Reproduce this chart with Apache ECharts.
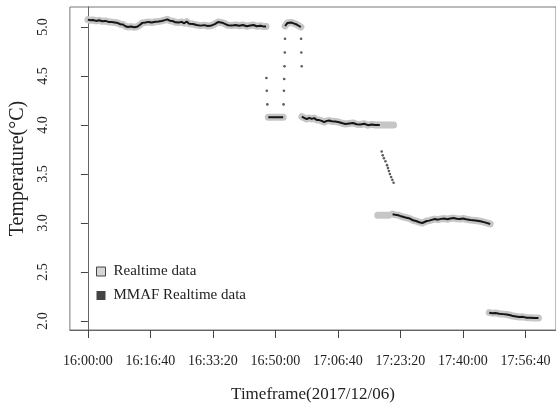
<!DOCTYPE html>
<html>
<head>
<meta charset="utf-8">
<script src="https://cdn.jsdelivr.net/npm/echarts@6/dist/echarts.min.js"></script>
<style>
  html, body { margin: 0; padding: 0; background: #fff; }
  #chart { width: 556px; height: 408px; }
</style>
</head>
<body>
<div id="chart"></div>
<script>
// seconds after 16:00:00 on 2017/12/06
const tickSeconds = [0, 1000, 2000, 3000, 4000, 5000, 6000, 7000];
const tickLabels = ['16:00:00', '16:16:40', '16:33:20', '16:50:00', '17:06:40', '17:23:20', '17:40:00', '17:56:40'];
const tempTicks = [2.0, 2.5, 3.0, 3.5, 4.0, 4.5, 5.0];

// plateau around 5.0 (16:00 - 16:47)
const timeA = [0, 40, 80, 130, 180, 230, 280, 330, 380, 430, 480, 520, 560, 600, 640, 690, 740, 790, 830, 870,
  920, 970, 1020, 1080, 1130, 1180, 1230, 1270, 1310, 1360, 1400, 1450, 1500, 1540, 1580, 1620, 1680, 1740,
  1800, 1860, 1920, 1980, 2030, 2080, 2110, 2150, 2200, 2240, 2300, 2360, 2420, 2480, 2540, 2600, 2650,
  2700, 2760, 2820, 2850];
const tempA = [5.075, 5.068, 5.072, 5.062, 5.068, 5.058, 5.062, 5.052, 5.05, 5.045, 5.04, 5.028, 5.025, 5.008, 5.0,
  5.004, 4.998, 5.003, 5.02, 5.042, 5.045, 5.052, 5.046, 5.053, 5.055, 5.062, 5.07, 5.078, 5.064, 5.06, 5.048, 5.045,
  5.052, 5.038, 5.055, 5.033, 5.03, 5.02, 5.014, 5.019, 5.01, 5.016, 5.03, 5.05, 5.062, 5.044, 5.03, 5.018, 5.014,
  5.021, 5.013, 5.02, 5.008, 5.016, 5.02, 5.008, 5.013, 5.004, 5.005];

// short drop to 4.08
const timeB = [2886, 2950, 3010, 3070, 3123];
const tempB = [4.08, 4.08, 4.08, 4.08, 4.08];

// short return to 5.0
const timeC = [3155, 3190, 3220, 3260, 3300, 3340, 3380, 3407];
const tempC = [5.01, 5.04, 5.055, 5.045, 5.035, 5.025, 5.01, 5.0];

// plateau around 4.0
const timeD = [3423, 3460, 3500, 3540, 3580, 3620, 3660, 3700, 3740, 3780, 3820, 3860, 3900, 3960, 4020,
  4060, 4120, 4180, 4240, 4300, 4360, 4420, 4480, 4540, 4600, 4669];
const tempD = [4.085, 4.072, 4.06, 4.072, 4.062, 4.07, 4.052, 4.05, 4.042, 4.03, 4.042, 4.045, 4.038, 4.035, 4.028,
  4.02, 4.01, 4.016, 4.021, 4.008, 4.005, 4.012, 3.998, 4.006, 4.0, 4.0];
const rtTailTimeD = [4720, 4800, 4890];
const rtTailTempD = [4.0, 4.0, 4.0];

// realtime only, early 3.08 block
const rtTimeE = [4637, 4700, 4760, 4811];
const rtTempE = [3.08, 3.08, 3.08, 3.08];

// plateau around 3.0
const timeF = [4874, 4920, 4960, 5010, 5040, 5080, 5110, 5150, 5200, 5250, 5300, 5350, 5380, 5420, 5460,
  5500, 5550, 5600, 5650, 5700, 5750, 5800, 5850, 5900, 5950, 6000, 6050, 6120, 6200, 6280, 6350, 6435];
const tempF = [3.09, 3.083, 3.08, 3.068, 3.06, 3.056, 3.048, 3.045, 3.028, 3.02, 3.008, 3.0, 3.006, 3.02, 3.024,
  3.032, 3.04, 3.034, 3.042, 3.045, 3.038, 3.046, 3.05, 3.043, 3.04, 3.046, 3.038, 3.03, 3.026, 3.018, 3.006, 2.99];

// plateau around 2.0
const timeG = [6420, 6470, 6520, 6580, 6640, 6700, 6760, 6800, 6850, 6900, 6960, 7020, 7080, 7140, 7208];
const tempG = [2.085, 2.08, 2.082, 2.074, 2.07, 2.066, 2.058, 2.05, 2.046, 2.04, 2.042, 2.034, 2.033, 2.03, 2.03];

// MMAF samples while the filter moves between levels
const mmafStepTime = [2855, 2862, 2870, 3130, 3136, 3140, 3145, 3150, 3153, 3410, 3414, 3420,
  4700, 4716, 4735, 4760, 4785, 4800, 4815, 4830, 4850, 4870, 4890];
const mmafStepTemp = [4.48, 4.35, 4.21, 4.21, 4.35, 4.47, 4.6, 4.74, 4.88, 4.88, 4.74, 4.6,
  3.73, 3.69, 3.66, 3.63, 3.59, 3.56, 3.53, 3.5, 3.47, 3.44, 3.41];

const FONT = 'Liberation Serif';

// join segments with gaps
function joinSegments(segs) {
  const out = [];
  segs.forEach((s, k) => {
    if (k > 0) out.push([s[0][0], '-']);
    s[0].forEach((t, i) => out.push([t, s[1][i]]));
  });
  return out;
}

const realtimeData = joinSegments([
  [timeA, tempA], [timeB, tempB], [timeC, tempC],
  [timeD.concat(rtTailTimeD), tempD.concat(rtTailTempD)],
  [rtTimeE, rtTempE], [timeF, tempF], [timeG, tempG],
]);
const mmafData = joinSegments([
  [timeA, tempA], [timeB, tempB], [timeC, tempC], [timeD, tempD], [timeF, tempF], [timeG, tempG],
]);
const mmafSteps = mmafStepTime.map((t, i) => [t, mmafStepTemp[i]]);

const chart = echarts.init(document.getElementById('chart'));

chart.setOption({
  animation: false,
  backgroundColor: '#fff',
  grid: {
    left: 69, top: 7, right: -6, bottom: 78,
    show: true, borderColor: '#777', borderWidth: 1,
  },
  legend: {
    orient: 'vertical',
    left: 91, top: 259,
    itemWidth: 9, itemHeight: 9, itemGap: 9,
    icon: 'rect',
    textStyle: { fontFamily: FONT, fontSize: 15, color: '#222', padding: [0, 0, 0, 3] },
    data: [
      { name: 'Realtime data', itemStyle: { color: '#d6d6d6', borderColor: '#444', borderWidth: 1 } },
      { name: 'MMAF Realtime data', itemStyle: { color: '#444' } },
    ],
  },
  xAxis: {
    type: 'value',
    min: -288, max: 7488,
    splitLine: { show: false },
    axisLine: { show: true, lineStyle: { color: '#666' } },
    axisTick: { show: true, length: 8, customValues: tickSeconds, lineStyle: { color: '#444' } },
    axisLabel: {
      customValues: tickSeconds,
      margin: 24,
      fontFamily: FONT, fontSize: 14, color: '#222',
      formatter: (v) => tickLabels[tickSeconds.indexOf(v)],
    },
    name: 'Timeframe(2017/12/06)',
    nameLocation: 'middle',
    nameGap: 56,
    nameTextStyle: { fontFamily: FONT, fontSize: 17, color: '#222' },
  },
  yAxis: {
    type: 'value',
    min: 1.908, max: 5.204,
    splitLine: { show: false },
    axisLine: { show: true, lineStyle: { color: '#666' } },
    axisTick: { show: true, length: 7, customValues: tempTicks, lineStyle: { color: '#444' } },
    axisLabel: {
      customValues: tempTicks,
      rotate: 90,
      margin: 20,
      fontFamily: FONT, fontSize: 14, color: '#222',
      formatter: (v) => v.toFixed(1),
    },
    name: 'Temperature(\u00B0C)',
    nameLocation: 'middle',
    nameGap: 41,
    nameTextStyle: { fontFamily: FONT, fontSize: 20, color: '#222' },
  },
  series: [
    {
      name: 'Realtime data',
      type: 'line',
      data: realtimeData,
      symbol: 'none',
      lineStyle: { color: '#c6c6c6', width: 7, cap: 'round', join: 'round' },
      itemStyle: { color: '#c6c6c6' },
      z: 1,
    },
    {
      name: 'MMAF Realtime data',
      type: 'line',
      data: mmafData,
      symbol: 'none',
      lineStyle: { color: '#151515', width: 2 },
      itemStyle: { color: '#151515' },
      z: 2,
    },
    {
      name: 'MMAF Realtime data',
      type: 'scatter',
      data: mmafSteps,
      symbolSize: 2.6,
      itemStyle: { color: '#333' },
      z: 3,
    },
  ],
});
</script>
</body>
</html>
